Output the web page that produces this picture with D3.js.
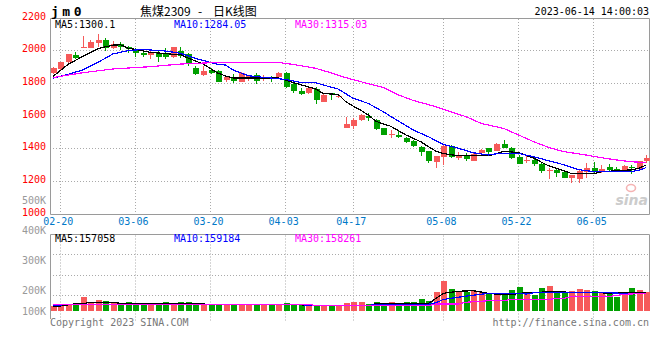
<!DOCTYPE html>
<html><head><meta charset="utf-8">
<script src="https://cdn.jsdelivr.net/npm/d3@7"></script>
<style>body{margin:0;background:#fff}svg{display:block}</style>
</head><body><div id="chart"></div>
<script>
// ---------------- data ----------------
const dates = ["02-17","02-20","02-21","02-22","02-23","02-24","02-27","02-28",
"03-01","03-02","03-03","03-06","03-07","03-08","03-09","03-10","03-13","03-14","03-15","03-16","03-17",
"03-20","03-21","03-22","03-23","03-24","03-27","03-28","03-29","03-30","03-31",
"04-03","04-04","04-06","04-07","04-10","04-11","04-12","04-13","04-14","04-17","04-18","04-19","04-20","04-21",
"04-24","04-25","04-26","04-27","04-28","05-04","05-05","05-08","05-09","05-10","05-11","05-12",
"05-15","05-16","05-17","05-18","05-19","05-22","05-23","05-24","05-25","05-26","05-29","05-30","05-31",
"06-01","06-02","06-05","06-06","06-07","06-08","06-09","06-12","06-13","06-14"];
const openP  = [1862,1885,1928,1973,2020,2018,2049,2065,2014,2038,2024,2008,1988,1975,1983,1979,1959,1998,1979,1896,
1851,1880,1878,1820,1837,1810,1841,1851,1833,1831,1837,1865,1796,1755,1739,1765,1688,1741,1720,1529,
1539,1576,1600,1576,1527,1486,1484,1467,1449,1412,1386,1320,1351,1416,1343,1355,1326,1371,1402,1388,
1428,1406,1351,1326,1332,1306,1265,1269,1257,1218,1214,1259,1282,1261,1290,1273,1269,1290,1278,1324];
const highP  = [1900,1930,1982,1990,2090,2065,2102,2078,2057,2053,2029,2014,2000,2000,2004,2014,2024,2024,1984,1906,
1906,1892,1882,1845,1857,1869,1851,1861,1851,1845,1871,1871,1800,1769,1784,1780,1733,1741,1729,1592,
1586,1612,1616,1580,1527,1514,1508,1474,1453,1416,1388,1357,1422,1420,1378,1371,1375,1396,1406,1432,
1453,1408,1361,1357,1343,1310,1280,1273,1265,1241,1269,1310,1318,1300,1306,1290,1300,1300,1326,1361];
const lowP   = [1858,1880,1925,1947,2015,2014,2025,2000,2008,2004,1984,1959,1963,1951,1933,1949,1955,1953,1908,1849,
1845,1855,1806,1808,1800,1806,1814,1796,1814,1810,1831,1770,1743,1729,1735,1673,1688,1698,1708,1525,
1518,1569,1571,1514,1484,1467,1463,1437,1408,1355,1314,1284,1300,1343,1331,1326,1322,1365,1363,1384,
1402,1335,1304,1314,1296,1249,1214,1229,1218,1192,1192,1222,1249,1249,1259,1259,1263,1243,1273,1314];
const closeP = [1895,1928,1980,1957,2022,2051,2065,2014,2040,2020,2008,1984,1971,1990,1959,1959,2020,1967,1916,1855,
1878,1865,1810,1841,1816,1865,1845,1816,1835,1825,1865,1780,1755,1735,1773,1698,1729,1727,1725,1551,
1576,1604,1586,1520,1486,1488,1474,1443,1418,1381,1324,1357,1416,1347,1359,1337,1367,1392,1382,1428,
1406,1345,1308,1332,1306,1265,1269,1253,1222,1237,1261,1282,1259,1273,1269,1265,1294,1280,1322,1345];
const volume = [121000,121000,128500,128500,155800,136300,142800,138900,135000,128500,
135000,128500,128500,128500,128500,135000,131000,135000,135000,128500,
128500,128500,124600,124600,124600,124600,124600,124600,124600,124600,
124600,131000,124600,124600,124600,122000,122000,119500,122000,132400,
135000,135000,127200,135000,131000,135000,132400,135000,135000,146700,
138900,173900,216700,185600,177800,173900,179100,173900,164900,170000,
164900,181700,193400,164900,162300,189500,198600,170000,170000,179100,
185600,181700,177800,170000,170000,155800,173900,189500,181700,173900];
// moving averages: [day index, value]
const ma5Points = [[0,1841],[2,1915],[4,1965],[6,2012],[8,2034],[9,2036],[10,2016],[13,1990],[16,1978],[17,1976],[18,1955],
[20,1918],[22,1862],[23,1845],[24,1833],[30,1833],[31,1820],[32,1805],[35,1765],[36,1738],[38,1732],[39,1688],[40,1660],
[41,1635],[42,1606],[43,1568],[44,1552],[45,1537],[47,1484],[49,1442],[50,1412],[51,1385],[52,1370],[54,1356],[58,1356],
[59,1367],[60,1385],[61,1380],[62,1376],[64,1342],[66,1295],[68,1266],[69,1248],[72,1246],[73,1258],[75,1265],[77,1270],
[78,1280],[79,1300]];
const ma10Points = [[0,1831],[2,1855],[4,1882],[6,1928],[8,1980],[10,2000],[12,2008],[13,2004],[15,1998],[17,1984],[19,1953],
[20,1940],[22,1916],[23,1912],[24,1882],[26,1847],[28,1837],[31,1824],[33,1806],[35,1804],[36,1790],[38,1765],[40,1708],
[42,1677],[44,1626],[46,1569],[48,1514],[50,1473],[52,1426],[54,1402],[56,1375],[58,1361],[59,1368],[60,1371],[62,1371],
[64,1351],[66,1326],[68,1302],[70,1272],[72,1259],[77,1259],[78,1268],[79,1284]];
const ma30Points = [[0,1835],[4,1865],[8,1888],[13,1902],[17,1918],[22,1928],[24,1928],[30,1928],[32,1916],[35,1892],[37,1865],
[39,1835],[41,1810],[44,1775],[46,1729],[48,1695],[51,1657],[53,1626],[55,1596],[57,1555],[60,1524],[62,1484],[64,1443],
[66,1408],[68,1382],[71,1361],[73,1345],[75,1331],[77,1320],[79,1315]];
const vma5Points = [[0,119500],[1,119500],[3,128000],[4,128000],[5,134000],[8,134000],[9,130000],[19,130000],[21,125000],
[33,125000],[34,120000],[42,120000],[43,128500],[50,128500],[51,149000],[52,169000],[54,177000],[56,179000],[58,169000],
[60,163000],[61,163000],[62,169000],[66,175000],[68,175000],[69,171000],[73,171000],[74,169000],[79,172000]];
const vma10Points = [[0,122000],[3,126000],[33,126000],[34,121000],[42,121000],[43,126000],[50,126000],[51,132000],
[52,145000],[55,158000],[57,165000],[58,169000],[62,169000],[63,166000],[64,171000],[74,171000],[76,169000],[79,169000]];
const vma30Points = [[0,126000],[34,126000],[35,121000],[50,120000],[51,127000],[54,127000],[55,134000],[58,140000],
[60,140000],[61,145000],[66,145000],[67,149000],[68,149000],[69,156000],[74,156000],[76,165000],[79,169000]];

const priceTicks = [1000,1200,1400,1600,1800,2000,2200];
const dateTicks = ["02-20","03-06","03-20","04-03","04-17","05-08","05-22","06-05"];
const volTicks = [100000,200000,300000,400000,500000];
const volTickLabels = ["100K","200K","300K","400K","500K"];
const mainLegend = ["MA5:1300.1","MA10:1284.05","MA30:1315.03"];
const volLegend = ["MA5:157058","MA10:159184","MA30:158261"];
const symbolText = "jm0";
const titleName = "焦煤2309";
const titleKind = "日K线图";
const stampText = "2023-06-14 14:00:03";
const copyText = "Copyright 2023 SINA.COM";
const urlText = "http://finance.sina.com.cn";

// ---------------- layout ----------------
const W = 660, H = 360;
const L = 50, R = 649.5;
const mainTop = 18, mainBot = 214;
const volTop = 234.5, volBase = 311, volBottom = 319;
const RED = "#f65a5a", GREEN = "#00a000", GRID = "#aaaaaa", FRAME = "#9a9a9a";
const MONO = "'DejaVu Sans Mono', monospace";
const lineColors = ["#000000", "#0000ff", "#ff00ff"];

const svg = d3.select("#chart").append("svg").attr("width", W).attr("height", H);
svg.append("rect").attr("width", W).attr("height", H).attr("fill", "#fff");

const x = d3.scaleLinear().domain([-0.5, dates.length - 0.5]).range([49, 650]);
const y = d3.scaleLinear().domain([1000, 2200]).range([mainBot, mainTop]);
const vy = d3.scaleLinear().domain([100000, 400000]).range([volBase, 234]);
const vLabel = d3.scaleLinear().domain([100000, 400000]).range([320, 230]);
const crisp = v => Math.round(v - 0.5) + 0.5;

const tickIdx = dateTicks.map(d => dates.indexOf(d));

// ---------------- grid (main) ----------------
const gMain = svg.append("g");
gMain.selectAll("line.hg").data(priceTicks.filter(t => t > 1000 && t < 2200)).join("line")
  .attr("x1", L).attr("x2", R).attr("y1", d => crisp(y(d))).attr("y2", d => crisp(y(d)))
  .attr("stroke", GRID).attr("stroke-dasharray", "1,2");
gMain.selectAll("line.vg").data(tickIdx).join("line")
  .attr("x1", d => crisp(x(d))).attr("x2", d => crisp(x(d)))
  .attr("y1", mainTop + 1).attr("y2", mainBot)
  .attr("stroke", GRID).attr("stroke-dasharray", "1,2");

// ---------------- grid (volume) ----------------
const gVol = svg.append("g");
const volGridY = d3.range(1, 4).map(k => volTop + k * 20.3);
gVol.selectAll("line.hg").data(volGridY).join("line")
  .attr("x1", L).attr("x2", R).attr("y1", d => crisp(d)).attr("y2", d => crisp(d))
  .attr("stroke", GRID).attr("stroke-dasharray", "1,2");
gVol.selectAll("line.vg").data(tickIdx).join("line")
  .attr("x1", d => crisp(x(d))).attr("x2", d => crisp(x(d)))
  .attr("y1", volTop + 1).attr("y2", volBottom + 2)
  .attr("stroke", GRID).attr("stroke-dasharray", "1,2");

// ---------------- frames ----------------
const fr = svg.append("g").attr("stroke", FRAME).attr("fill", "none");
fr.append("path").attr("d", `M${L + 0.5},${mainTop + 0.5}H${R}V${crisp(mainBot)}H${L + 0.5}Z`);
fr.append("path").attr("d", `M${L + 0.5},${volBottom}V${volTop}H${R}V${volBase}`);

// sina watermark
const wm = svg.append("g");
wm.append("ellipse").attr("cx", 631).attr("cy", 188).attr("rx", 4.5).attr("ry", 3.5)
  .attr("fill", "none").attr("stroke", "#f5b4b4").attr("stroke-width", 1.6);
wm.append("text").attr("x", 648).attr("y", 205).attr("text-anchor", "end")
  .attr("font-family", "'DejaVu Sans', sans-serif").attr("font-weight", "bold").attr("font-style", "italic")
  .attr("font-size", 14).attr("fill", "#cccccc").text("sina");

// ---------------- candles ----------------
const cIdx = d3.range(dates.length);
const colorOf = i => closeP[i] >= openP[i] ? RED : GREEN;
const gC = svg.append("g").attr("shape-rendering", "crispEdges");
gC.selectAll("line").data(cIdx).join("line")
  .attr("x1", i => Math.round(x(i)) + 0.5).attr("x2", i => Math.round(x(i)) + 0.5)
  .attr("y1", i => y(highP[i])).attr("y2", i => y(lowP[i]))
  .attr("stroke", colorOf);
gC.selectAll("rect").data(cIdx).join("rect")
  .attr("x", i => Math.round(x(i)) - 2.5).attr("width", 6)
  .attr("y", i => y(Math.max(openP[i], closeP[i])))
  .attr("height", i => Math.max(1, Math.abs(y(openP[i]) - y(closeP[i]))))
  .attr("fill", colorOf);

// MA lines main
const lineMain = d3.line().x(d => x(d[0])).y(d => y(d[1]));
[ma5Points, ma10Points, ma30Points].forEach((pts, k) => {
  svg.append("path").attr("d", lineMain(pts)).attr("fill", "none")
    .attr("stroke", lineColors[k]).attr("stroke-width", 1.2).attr("shape-rendering", "crispEdges");
});

// ---------------- volume bars ----------------
svg.append("g").attr("shape-rendering", "crispEdges").selectAll("rect").data(cIdx).join("rect")
  .attr("x", i => Math.round(x(i)) - 2.5).attr("width", 6)
  .attr("y", i => vy(volume[i])).attr("height", i => volBase - vy(volume[i]))
  .attr("fill", colorOf);
const lineVol = d3.line().x(d => x(d[0])).y(d => vy(d[1]));
[vma5Points, vma10Points, vma30Points].forEach((pts, k) => {
  svg.append("path").attr("d", lineVol(pts)).attr("fill", "none")
    .attr("stroke", lineColors[k]).attr("stroke-width", 1.2).attr("shape-rendering", "crispEdges");
});

// ---------------- axes labels ----------------
const txt = (g) => g.attr("font-family", MONO).attr("font-size", 10);
const yAx = svg.append("g").call(txt);
yAx.selectAll("text").data(priceTicks).join("text")
  .attr("x", 46).attr("y", d => y(d) - 2).attr("dy", "0.35em").attr("text-anchor", "end")
  .attr("fill", "#ff0000").text(d => d);
const vAx = svg.append("g").call(txt);
vAx.selectAll("text").data(volTicks).join("text")
  .attr("x", 46).attr("y", d => Math.min(vLabel(d), volBase)).attr("dy", "0.35em").attr("text-anchor", "end")
  .attr("fill", "#999999").text((d, i) => volTickLabels[i]);
const xAx = svg.append("g").call(txt);
xAx.selectAll("text").data(tickIdx).join("text")
  .attr("x", d => x(d) - 2).attr("y", 221.5).attr("dy", "0.35em").attr("text-anchor", "middle")
  .attr("fill", "#0078c8").text(d => dates[d]);

// legends
const legX = [55, 174, 295];
svg.append("g").call(txt).selectAll("text").data(mainLegend).join("text")
  .attr("x", (d, i) => legX[i]).attr("y", 24).attr("dy", "0.35em")
  .attr("fill", (d, i) => lineColors[i]).text(d => d);
svg.append("g").call(txt).selectAll("text").data(volLegend).join("text")
  .attr("x", (d, i) => legX[i]).attr("y", 238.5).attr("dy", "0.35em")
  .attr("fill", (d, i) => lineColors[i]).text(d => d);

// header
svg.append("text").attr("x", 51).attr("y", 16).attr("font-family", MONO).attr("font-weight", "bold")
  .attr("font-size", 13).attr("letter-spacing", 3.5).attr("fill", "#000").text(symbolText);
svg.append("text").attr("x", 140).attr("y", 15.5).attr("font-family", "'Noto Sans CJK SC', sans-serif")
  .attr("font-size", 12).attr("fill", "#000").text(titleName);
svg.append("text").attr("x", 200).attr("y", 15.5).attr("text-anchor", "middle")
  .attr("font-family", "'Noto Sans CJK SC', sans-serif").attr("font-size", 12).attr("fill", "#000").text("-");
svg.append("text").attr("x", 213).attr("y", 15.5).attr("font-family", "'Noto Sans CJK SC', sans-serif")
  .attr("font-size", 12).attr("fill", "#000").text(titleKind);
svg.append("text").attr("x", 649).attr("y", 15).attr("text-anchor", "end").attr("font-family", MONO)
  .attr("font-size", 10).attr("fill", "#000").text(stampText);

// footer
svg.append("text").attr("x", 50).attr("y", 326).attr("font-family", MONO).attr("font-size", 10)
  .attr("fill", "#777").text(copyText);
svg.append("text").attr("x", 649).attr("y", 326).attr("text-anchor", "end").attr("font-family", MONO)
  .attr("font-size", 10).attr("fill", "#777").text(urlText);
</script></body></html>
